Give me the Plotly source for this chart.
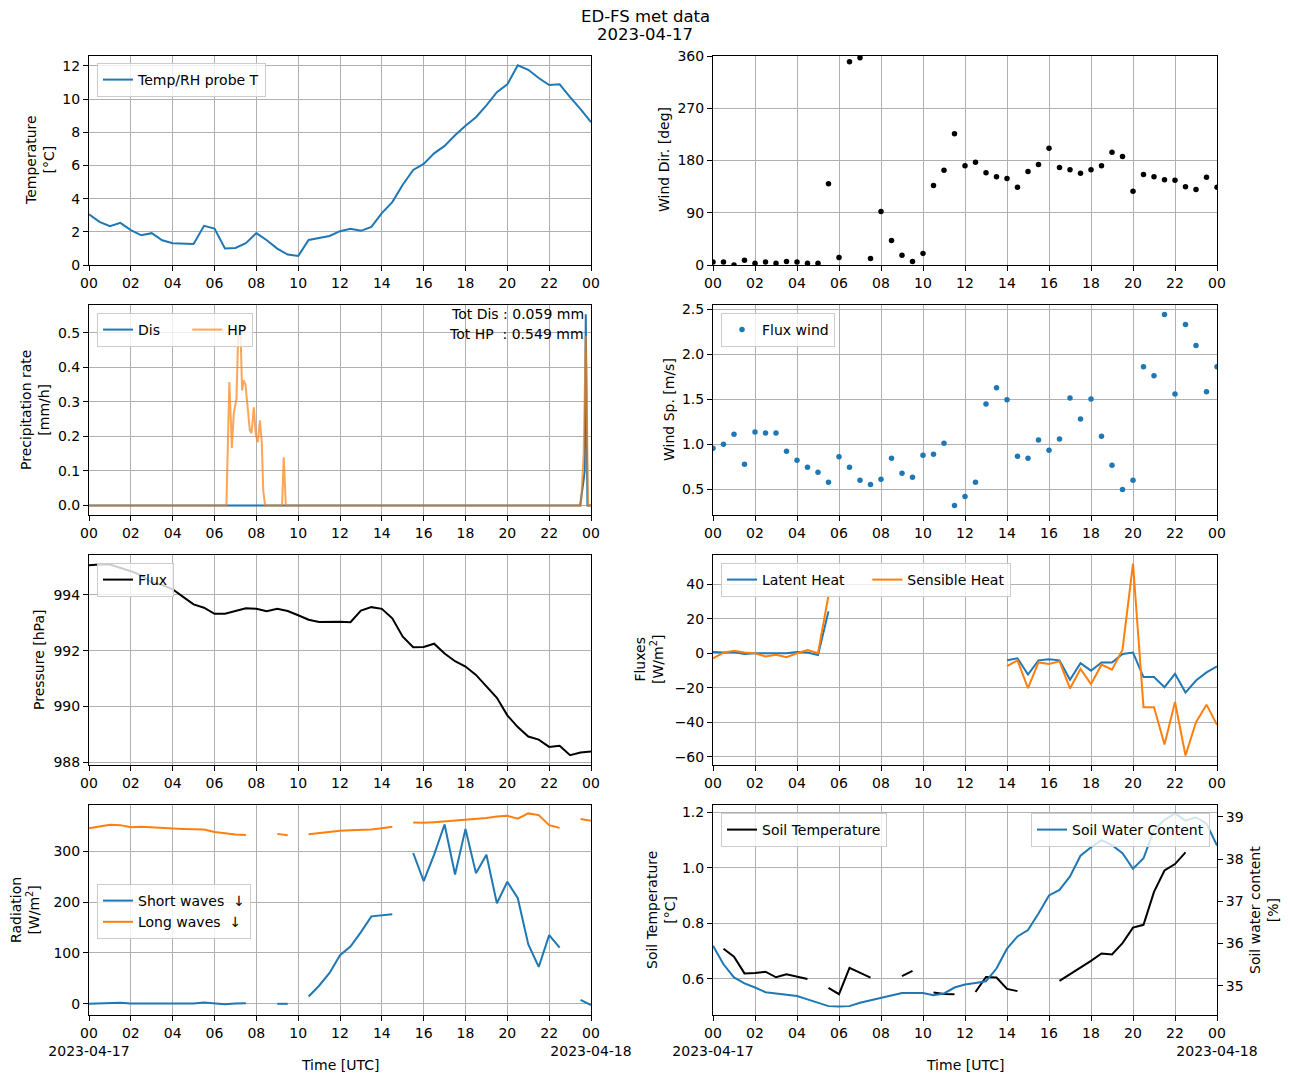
import plotly.graph_objects as go

# page body has an 8px margin: the figure is drawn 8px in from the window corner
OFF = 8
W, H = 1290 - OFF, 1083 - OFF

# ---------------- data ----------------
hours = [i * 0.5 for i in range(49)]  # 00:00 .. 24:00 every 30 min

temp_c = [3.06, 2.6, 2.34, 2.54, 2.1, 1.79, 1.92, 1.49, 1.31, 1.29, 1.27, 2.36, 2.2,
          0.99, 1.03, 1.31, 1.92, 1.49, 0.99, 0.63, 0.54, 1.51, 1.63, 1.75, 2.04, 2.18,
          2.06, 2.3, 3.13, 3.79, 4.84, 5.73, 6.09, 6.73, 7.18, 7.82, 8.39, 8.91, 9.62,
          10.42, 10.89, 12.04, 11.77, 11.27, 10.85, 10.89, 10.12, 9.4, 8.61]

wind_dir = [5, 5, 0, 8, 3, 5, 3, 6, 5, 3, 3, 140, 13, 350, 357, 11, 92, 42, 17, 6, 20,
            137, 163, 226, 171, 177, 159, 152, 149, 134, 161, 173, 201, 168, 164, 158,
            164, 171, 194, 187, 127, 156, 152, 147, 146, 135, 130, 151, 134]

wind_speed = [0.955, 1.0, 1.11, 0.777, 1.134, 1.123, 1.123, 0.922, 0.821, 0.743, 0.687,
              0.576, 0.859, 0.743, 0.598, 0.553, 0.609, 0.844, 0.676, 0.631, 0.877, 0.888,
              1.011, 0.319, 0.418, 0.576, 1.447, 1.626, 1.492, 0.866, 0.844, 1.045, 0.933,
              1.056, 1.514, 1.279, 1.503, 1.089, 0.765, 0.497, 0.598, 1.86, 1.76, 2.44,
              1.558, 2.33, 2.095, 1.581, 1.86]

pressure = [995.06, 995.09, 995.09, 994.97, 994.85, 994.70, 994.44, 994.36, 994.2, 993.93,
            993.66, 993.54, 993.32, 993.32, 993.41, 993.52, 993.5, 993.41, 993.5, 993.42,
            993.27, 993.11, 993.03, 993.04, 993.04, 993.02, 993.44, 993.56, 993.5, 993.16,
            992.5, 992.12, 992.13, 992.25, 991.9, 991.62, 991.43, 991.13, 990.71, 990.31,
            989.68, 989.26, 988.92, 988.81, 988.55, 988.59, 988.25, 988.35, 988.38]

latent_heat = [0.8, 0.4, 0.8, -0.4, 0, 0, -0.4, 0, 0.8, 0.4, -1, 24.3] + [None] * 16 + \
              [-4.1, -2.9, -12.3, -4.1, -3.5, -4.1, -15.4, -5.8, -10.1, -5.3, -5.3, -0.4,
               0.4, -13.8, -13.8, -19.7, -11.9, -22.8, -15.8, -11.1, -7.6]

sensible_heat = [-2.9, 0.4, 1.4, 0.4, 0, -1.8, -0.8, -2.3, 0, 1.9, 0, 33.5] + [None] * 16 + \
                [-7.4, -4.1, -20.2, -5.3, -6.2, -4.7, -20.4, -9.1, -17.9, -6.6, -9.5, 2.1,
                 52, -31.3, -31.3, -52.9, -28.2, -59.3, -40, -29.8, -41.5]

long_waves = [345.4, 349.4, 352, 351.4, 347.4, 348, 347.4, 346, 344.7, 344, 344, 342.8,
              338, 334.8, 332.8, 332, None, None, 334.2, 331.6, None,
              333.5, 336.2, 337.5, 340.2, 341.5, 341.5, 342.8, 345.4, 348, None,
              356.6, 356, 357.3, 358.6, 360, 361.9, 363.3, 365.3, 368.6, 369.9, 364,
              374.5, 371.1, 351.4, 346, None, 363.3, 360]

short_waves = [0, 0.7, 1.3, 2, 0.7, 0.7, 1.3, 0.7, 0.7, 0.7, 0.7, 2.6, 0.7, -0.7, 0.7, 1.3,
               None, None, 0, 0, None,
               14.5, 35.6, 60.6, 95.6, 112.7, 141, 172, 174, 176, None,
               296.6, 241.3, 293.3, 352.7, 254.4, 344, 257, 293.3, 197.8, 240, 207.6,
               117.3, 72.5, 135.1, 110.7, None, 7.9, -2.6]

soil_temp = [None, 0.709, 0.68, 0.62, 0.621, 0.626, 0.606, 0.617, 0.609, 0.6, None,
             0.568, 0.545, 0.64, 0.621, 0.605, None, None, 0.61, 0.629, None,
             0.551, 0.546, 0.545, None, 0.553, 0.607, 0.605, 0.564, 0.556,
             None, None, None, 0.593, 0.616, 0.639, 0.665, 0.692, 0.688, 0.729, 0.785,
             0.795, 0.914, 0.991, 1.014, 1.056, None, None, None]

soil_water = [35.95, 35.51, 35.2, 35.06, 34.96, 34.85, 34.82, 34.79, 34.76, 34.68, 34.6,
              34.52, 34.51, 34.52, 34.6, 34.66, 34.71, 34.78, 34.83, 34.83, 34.83, 34.78,
              34.82, 34.96, 35.03, 35.07, 35.11, 35.41, 35.88, 36.17, 36.32, 36.71, 37.14,
              37.27, 37.59, 38.08, 38.28, 38.45, 38.33, 38.14, 37.77, 38.02, 38.69, 38.93,
              39.08, 38.91, 38.99, 38.84, 38.32]

hp_time = [0, 6.57, 6.71, 6.83, 6.92, 7.05, 7.14, 7.24, 7.32, 7.39, 7.48, 7.58, 7.69, 7.77,
           7.88, 7.97, 8.07, 8.17, 8.26, 8.33, 8.42, 9.23, 9.31, 9.41, 23.52, 23.65, 23.75,
           23.86, 24]
hp_rate = [0, 0, 0.357, 0.166, 0.265, 0.309, 0.507, 0.507, 0.333, 0.362, 0.350, 0.284,
           0.217, 0.209, 0.284, 0.207, 0.183, 0.246, 0.183, 0.043, 0, 0, 0.139, 0, 0,
           0.15, 0.49, 0, 0]

dis_time = [0, 23.48, 23.64, 23.70, 23.75, 23.83, 24]
dis_rate = [0, 0, 0.07, 0.1, 0.553, 0, 0]

tick_hours = list(range(0, 25, 2))
tick_labels = ["00", "02", "04", "06", "08", "10", "12", "14", "16", "18", "20", "22", "00"]
date_start, date_end = "2023-04-17", "2023-04-18"

BLUE, ORANGE = "#1f77b4", "#ff7f0e"
GRID = "#b0b0b0"
FONT = "DejaVu Sans"
TICK_SIZE = 14
LEG_SIZE = 14
NB = "\u00a0"

# ---------------- layout geometry (window pixels) ----------------
cols = [(89, 591), (713, 1217)]
rows = [(56, 265), (305, 515), (555, 765), (805, 1015)]


def px(xp):
    return (xp - OFF) / W


def py(yp):
    return 1 - (yp - OFF) / H


def xdom(c):
    return [px(cols[c][0]), px(cols[c][1])]


def ydom(r):
    return [py(rows[r][1]), py(rows[r][0])]


def xaxis(c, r, anchor):
    labels = list(tick_labels)
    if r == 3:
        labels[0] = "00<br>" + date_start
        labels[-1] = "00<br>" + date_end
    return dict(domain=xdom(c), anchor=anchor, range=[0, 24], tickmode="array",
                tickvals=tick_hours, ticktext=labels, tickangle=0, showgrid=True,
                gridcolor=GRID, gridwidth=0.8, showline=True, linecolor="black",
                linewidth=1, mirror=True, ticks="outside", ticklen=5, tickwidth=1,
                tickcolor="black", zeroline=False,
                tickfont=dict(size=TICK_SIZE, color="black"), automargin=False)


def yaxis(r, anchor, rng, dtick, tickformat=None, tick0=0):
    d = dict(domain=ydom(r), anchor=anchor, range=rng, tick0=tick0, dtick=dtick,
             showgrid=True, gridcolor=GRID, gridwidth=0.8, showline=True,
             linecolor="black", linewidth=1, mirror=True, ticks="outside", ticklen=5,
             tickwidth=1, tickcolor="black", zeroline=False,
             tickfont=dict(size=TICK_SIZE, color="black"), automargin=False)
    if tickformat:
        d["tickformat"] = tickformat
    return d


fig = go.Figure()

# 1 Temperature
fig.add_trace(go.Scatter(x=hours, y=temp_c, mode="lines", name="Temp/RH probe T",
                         line=dict(color=BLUE, width=2), xaxis="x", yaxis="y",
                         legend="legend"))
# 2 Wind direction
fig.add_trace(go.Scatter(x=hours, y=wind_dir, mode="markers", name="Wind dir",
                         marker=dict(color="black", size=5.5), xaxis="x2", yaxis="y2",
                         showlegend=False))
# 3 Precipitation
fig.add_trace(go.Scatter(x=dis_time, y=dis_rate, mode="lines", name="Dis" + NB * 5,
                         line=dict(color=BLUE, width=2), xaxis="x3", yaxis="y3",
                         legend="legend2"))
fig.add_trace(go.Scatter(x=hp_time, y=hp_rate, mode="lines", name="HP", opacity=0.7,
                         line=dict(color=ORANGE, width=2), xaxis="x3", yaxis="y3",
                         legend="legend2"))
# 4 Wind speed
fig.add_trace(go.Scatter(x=hours, y=wind_speed, mode="markers", name="Flux wind",
                         marker=dict(color=BLUE, size=5.5), xaxis="x4", yaxis="y4",
                         legend="legend3"))
# 5 Pressure
fig.add_trace(go.Scatter(x=hours, y=pressure, mode="lines", name="Flux",
                         line=dict(color="black", width=2), xaxis="x5", yaxis="y5",
                         legend="legend4"))
# 6 Fluxes
fig.add_trace(go.Scatter(x=hours, y=latent_heat, mode="lines", name="Latent Heat" + NB * 4,
                         line=dict(color=BLUE, width=2), xaxis="x6", yaxis="y6",
                         legend="legend5"))
fig.add_trace(go.Scatter(x=hours, y=sensible_heat, mode="lines", name="Sensible Heat",
                         line=dict(color=ORANGE, width=2), xaxis="x6", yaxis="y6",
                         legend="legend5"))
# 7 Radiation
fig.add_trace(go.Scatter(x=hours, y=short_waves, mode="lines",
                         name="Short waves" + NB * 2 + "\u2193",
                         line=dict(color=BLUE, width=2), xaxis="x7", yaxis="y7",
                         legend="legend6"))
fig.add_trace(go.Scatter(x=hours, y=long_waves, mode="lines",
                         name="Long waves" + NB * 2 + "\u2193",
                         line=dict(color=ORANGE, width=2), xaxis="x7", yaxis="y7",
                         legend="legend6"))
# 8 Soil
fig.add_trace(go.Scatter(x=hours, y=soil_temp, mode="lines", name="Soil Temperature",
                         line=dict(color="black", width=2), xaxis="x8", yaxis="y8",
                         legend="legend7"))
fig.add_trace(go.Scatter(x=hours, y=soil_water, mode="lines", name="Soil Water Content",
                         line=dict(color=BLUE, width=2), xaxis="x8", yaxis="y9",
                         legend="legend8"))


def legend(xp, yp, xanchor="left", orientation="v"):
    return dict(x=px(xp), y=py(yp), xref="paper", yref="paper", xanchor=xanchor,
                yanchor="top", bgcolor="rgba(255,255,255,0.8)", bordercolor="#cccccc",
                borderwidth=1, orientation=orientation, itemwidth=30, tracegroupgap=0,
                font=dict(size=LEG_SIZE, color="black", family=FONT))


layout = dict(
    width=W, height=H, margin=dict(l=0, r=0, t=0, b=0), autosize=False,
    paper_bgcolor="white", plot_bgcolor="white",
    font=dict(family=FONT, size=TICK_SIZE, color="black"),
    xaxis=xaxis(0, 0, "y"), yaxis=yaxis(0, "x", [0, 12.6], 2),
    xaxis2=xaxis(1, 0, "y2"), yaxis2=yaxis(0, "x2", [0, 360], 90),
    xaxis3=xaxis(0, 1, "y3"), yaxis3=yaxis(1, "x3", [-0.0277, 0.58], 0.1, ".1f"),
    xaxis4=xaxis(1, 1, "y4"), yaxis4=yaxis(1, "x4", [0.213, 2.546], 0.5, ".1f"),
    xaxis5=xaxis(0, 2, "y5"), yaxis5=yaxis(2, "x5", [987.9, 995.43], 2),
    xaxis6=xaxis(1, 2, "y6"), yaxis6=yaxis(2, "x6", [-64.8, 57.0], 20),
    xaxis7=xaxis(0, 3, "y7"), yaxis7=yaxis(3, "x7", [-22, 391], 100),
    xaxis8=xaxis(1, 3, "y8"), yaxis8=yaxis(3, "x8", [0.47, 1.227], 0.2, ".1f"),
    yaxis9=dict(domain=ydom(3), anchor="x8", overlaying="y8", side="right",
                range=[34.31, 39.28], tick0=35, dtick=1, showgrid=False, showline=False,
                ticks="outside", ticklen=5, tickwidth=1, tickcolor="black",
                zeroline=False, tickfont=dict(size=TICK_SIZE, color="black"),
                automargin=False),
    legend=legend(97, 63),
    legend2=legend(97, 313, orientation="h"),
    legend3=legend(721, 313),
    legend4=legend(97, 563),
    legend5=legend(721, 563, orientation="h"),
    legend6=legend(97, 884),
    legend7=legend(721, 813),
    legend8=legend(1210, 813, xanchor="right"),
)
fig.update_layout(**layout)


def ann(text, xp, yp, angle=0, xanchor="center", size=TICK_SIZE):
    return dict(text=text, x=px(xp), y=py(yp), xref="paper", yref="paper",
                showarrow=False, textangle=angle, xanchor=xanchor, yanchor="middle",
                font=dict(size=size, color="black", family=FONT))


annotations = [
    ann("ED-FS met data", 645, 17, size=16.5),
    ann(date_start, 645, 34, size=16.5),
    ann("Temperature<br>[°C]", 40, 160, -90),
    ann("Wind Dir. [deg]", 664, 160, -90),
    ann("Precipitation rate<br>[mm/h]", 35, 410, -90),
    ann("Wind Sp. [m/s]", 669, 410, -90),
    ann("Pressure [hPa]", 39, 660, -90),
    ann("Fluxes<br>[W/m<sup>2</sup>]", 649, 660, -90),
    ann("Radiation<br>[W/m<sup>2</sup>]", 25, 910, -90),
    ann("Soil Temperature<br>[°C]", 661, 910, -90),
    ann("Soil water content<br>[%]", 1264, 910, -90),
    ann("Time [UTC]", 340, 1065),
    ann("Time [UTC]", 965, 1065),
    ann("Tot Dis : 0.059 mm", 586, 314, xanchor="right", size=LEG_SIZE),
    ann("Tot HP" + NB * 2 + ": 0.549 mm", 586, 334, xanchor="right", size=LEG_SIZE),
]
fig.update_layout(annotations=annotations)

fig.write_html("out.html")
